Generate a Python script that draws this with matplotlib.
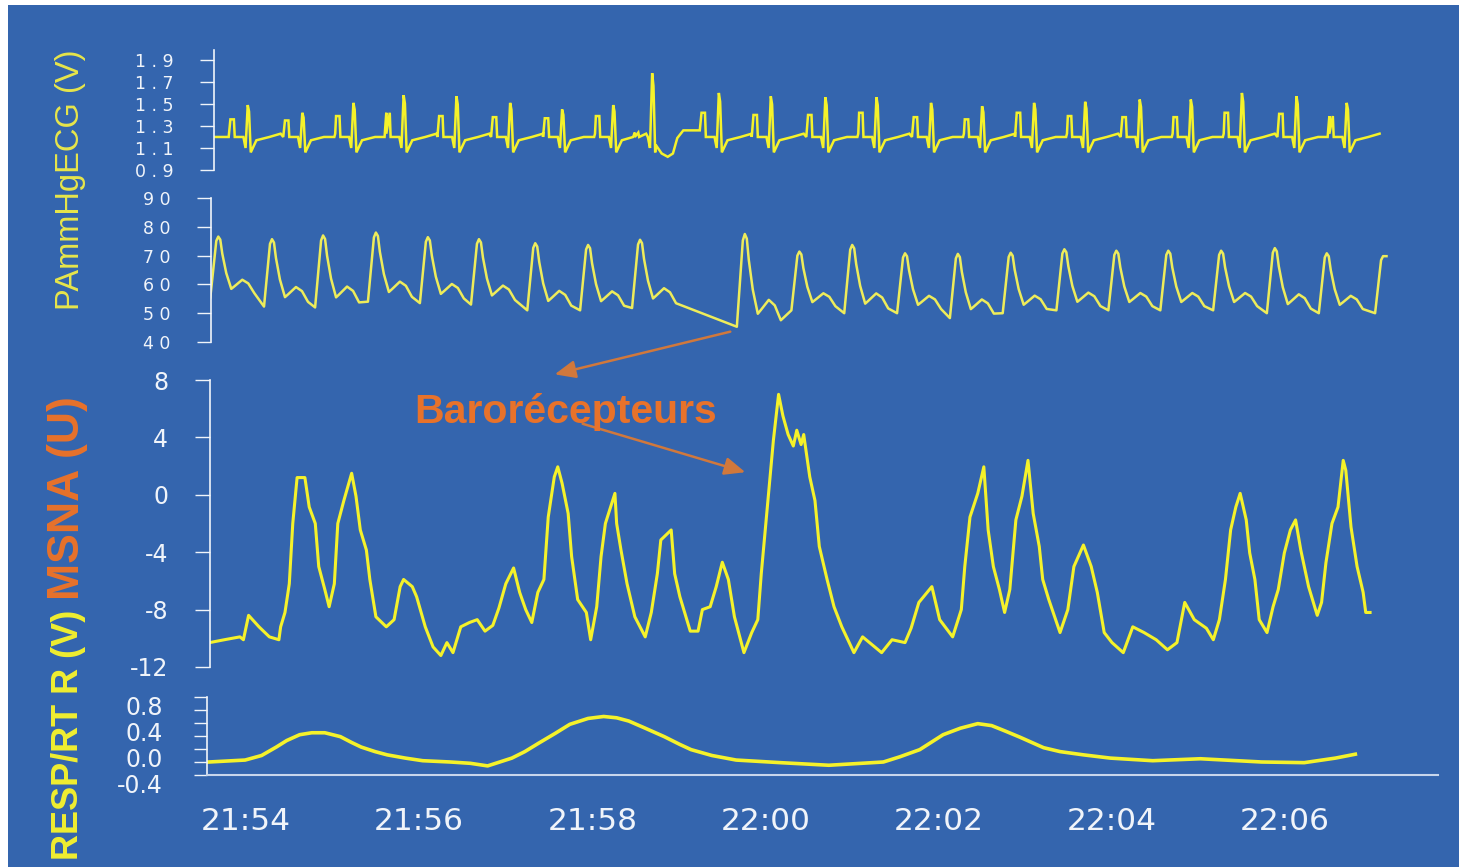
import matplotlib.pyplot as plt
import matplotlib.transforms as mtransforms
from matplotlib.patches import Rectangle, FancyArrowPatch
from matplotlib.ticker import FuncFormatter
import numpy as np

plt.rcParams['axes.unicode_minus'] = False

# time axis: minutes after 21:00
# ---- ECG (V) ----
ecg_r_t = [54.02, 54.65, 55.24, 55.82, 56.43, 57.05, 57.65, 58.24, 58.69, 59.46, 60.06,
           60.69, 61.28, 61.91, 62.50, 63.10, 63.69, 64.32, 64.91, 65.50, 66.13, 66.71]
ecg_r_v = [1.49, 1.42, 1.51, 1.58, 1.57, 1.51, 1.45, 1.49, 1.78, 1.60, 1.57,
           1.56, 1.56, 1.51, 1.48, 1.51, 1.52, 1.54, 1.54, 1.60, 1.57, 1.51]
ecg_p_v = [1.36, 1.35, 1.39, 1.42, 1.39, 1.38, 1.37, 1.39, 1.24, 1.42, 1.40,
           1.40, 1.42, 1.38, 1.36, 1.42, 1.39, 1.38, 1.38, 1.42, 1.41, 1.39]
ecg_base = 1.2
ecg_start_t = 53.63
# wide dip after the long beat
ecg_dip_t = [58.73, 58.80, 58.87, 58.93, 58.98, 59.05, 59.24]
ecg_dip_v = [1.13, 1.05, 1.02, 1.05, 1.19, 1.26, 1.26]
# beat shape: offsets (min) from the R wave
ecg_dt = [-0.22, -0.20, -0.16, -0.15, -0.05, -0.025, 0.0, 0.015, 0.035, 0.07, 0.10, 0.25, 0.38]

# ---- PA (mmHg) ----
pa_peak_t = [53.68, 54.30, 54.89, 55.50, 56.10, 56.69, 57.34, 57.95, 58.55, 59.76, 60.39,
             61.00, 61.61, 62.22, 62.83, 63.45, 64.05, 64.65, 65.26, 65.88, 66.48, 67.13]
pa_peak_v = [76.6, 75.7, 77.0, 78.0, 76.4, 75.7, 74.3, 73.7, 75.5, 77.5, 71.4,
             73.7, 70.8, 70.6, 71.0, 72.2, 71.7, 71.7, 71.7, 72.6, 70.8, 69.8]
pa_trough_v = [55.5, 52.3, 52.0, 54.0, 53.5, 53.0, 51.0, 51.0, 51.8, 45.3, 51.0,
               50.0, 50.0, 48.3, 50.0, 51.0, 51.0, 51.0, 51.0, 50.0, 50.0, 50.0]
pa_end_t = 67.17
pa_dt = [-0.092, -0.058, -0.023, 0.0, 0.023, 0.046, 0.092, 0.150, 0.185, 0.277, 0.346, 0.416]
pa_frac = [0.0, 0.45, 0.93, 1.0, 0.95, 0.72, 0.40, 0.14, 0.18, 0.29, 0.23, 0.07]

# ---- MSNA (U) ----
msna_t = [53.58, 53.75, 53.93, 53.97, 54.03, 54.15, 54.27, 54.38, 54.40, 54.45,
          54.50, 54.54, 54.59, 54.68, 54.73, 54.80, 54.84, 54.91, 54.96, 55.02,
          55.06, 55.13, 55.22, 55.27, 55.32, 55.39, 55.43, 55.50, 55.62, 55.71,
          55.78, 55.82, 55.92, 55.97, 56.07, 56.16, 56.25, 56.32, 56.39, 56.48,
          56.58, 56.67, 56.76, 56.85, 56.92, 57.00, 57.09, 57.16, 57.23, 57.30,
          57.37, 57.44, 57.49, 57.56, 57.60, 57.65, 57.72, 57.76, 57.83, 57.93,
          57.98, 58.05, 58.10, 58.15, 58.21, 58.26, 58.28, 58.33, 58.40, 58.49,
          58.61, 58.68, 58.75, 58.79, 58.91, 58.95, 59.01, 59.13, 59.22, 59.27,
          59.36, 59.43, 59.50, 59.57, 59.64, 59.75, 59.84, 59.91, 59.95, 60.02,
          60.09, 60.15, 60.20, 60.26, 60.32, 60.36, 60.41, 60.44, 60.51, 60.57,
          60.62, 60.71, 60.79, 60.88, 61.02, 61.12, 61.34, 61.46, 61.61, 61.68,
          61.77, 61.92, 62.01, 62.16, 62.26, 62.30, 62.36, 62.45, 62.52, 62.57,
          62.63, 62.70, 62.76, 62.82, 62.89, 62.96, 63.03, 63.09, 63.16, 63.20,
          63.27, 63.40, 63.49, 63.56, 63.67, 63.76, 63.83, 63.91, 64.00, 64.13,
          64.24, 64.37, 64.51, 64.64, 64.75, 64.84, 64.95, 65.09, 65.17, 65.24,
          65.31, 65.37, 65.43, 65.48, 65.55, 65.59, 65.65, 65.70, 65.79, 65.86,
          65.92, 65.99, 66.06, 66.12, 66.18, 66.27, 66.37, 66.42, 66.47, 66.54,
          66.61, 66.67, 66.70, 66.76, 66.83, 66.90, 66.93, 66.98]
msna_v = [-10.3, -10.1, -9.9, -10.1, -8.4, -9.2, -9.9, -10.1, -9.2, -8.2,
          -6.2, -2.0, 1.2, 1.2, -0.85, -2.0, -5.0, -6.6, -7.8, -6.2,
          -2.0, -0.4, 1.5, -0.1, -2.45, -3.85, -5.9, -8.5, -9.2, -8.7,
          -6.4, -5.9, -6.4, -7.1, -9.2, -10.6, -11.2, -10.3, -11.0, -9.2,
          -8.9, -8.7, -9.5, -9.1, -7.9, -6.2, -5.1, -6.8, -8.0, -8.9,
          -6.8, -5.9, -1.55, 1.25, 1.95, 0.8, -1.3, -4.3, -7.3, -8.2,
          -10.1, -7.8, -4.3, -2.0, -0.85, 0.1, -2.0, -3.85, -6.2, -8.5,
          -9.9, -8.2, -5.5, -3.15, -2.45, -5.5, -7.1, -9.5, -9.5, -8.0,
          -7.8, -6.4, -4.7, -5.9, -8.5, -11.0, -9.6, -8.7, -5.5, -0.85,
          3.8, 7.0, 5.5, 4.2, 3.4, 4.5, 3.5, 4.2, 1.25, -0.4,
          -3.6, -5.9, -7.8, -9.2, -11.0, -9.9, -11.0, -10.1, -10.3, -9.3,
          -7.5, -6.4, -8.7, -9.9, -8.0, -5.0, -1.55, 0.1, 1.95, -2.45,
          -5.0, -6.6, -8.2, -6.6, -1.75, -0.1, 2.4, -1.3, -3.6, -5.9,
          -7.3, -9.6, -8.0, -5.0, -3.5, -5.0, -6.8, -9.6, -10.3, -11.0,
          -9.2, -9.6, -10.1, -10.8, -10.3, -7.5, -8.7, -9.3, -10.1, -8.7,
          -5.9, -2.45, -0.85, 0.1, -1.75, -4.05, -5.9, -8.7, -9.6, -7.8,
          -6.6, -4.05, -2.45, -1.75, -3.85, -6.4, -8.4, -7.5, -4.75, -2.0,
          -0.85, 2.4, 1.7, -2.25, -5.0, -6.8, -8.2, -8.2]

# ---- RESP (V) ----
resp_t = [53.57, 53.99, 54.18, 54.35, 54.47, 54.62, 54.76, 54.91, 55.09, 55.22,
          55.33, 55.49, 55.63, 55.84, 56.04, 56.36, 56.59, 56.79, 56.93, 57.07,
          57.22, 57.38, 57.57, 57.74, 57.95, 58.13, 58.28, 58.42, 58.61, 58.83,
          59.01, 59.14, 59.38, 59.66, 60.17, 60.73, 61.36, 61.55, 61.78, 62.05,
          62.25, 62.45, 62.61, 62.76, 62.94, 63.21, 63.40, 63.67, 63.98, 64.47,
          65.02, 65.73, 66.22, 66.58, 66.81]
resp_v = [0.0, 0.03, 0.10, 0.23, 0.33, 0.42, 0.45, 0.45, 0.39, 0.30,
          0.23, 0.16, 0.11, 0.06, 0.02, 0.0, -0.02, -0.06, 0.0, 0.06,
          0.16, 0.29, 0.44, 0.58, 0.67, 0.70, 0.68, 0.63, 0.52, 0.39,
          0.27, 0.19, 0.10, 0.03, -0.01, -0.05, 0.0, 0.08, 0.19, 0.42,
          0.52, 0.59, 0.56, 0.48, 0.38, 0.22, 0.16, 0.11, 0.06, 0.02,
          0.05, 0.0, -0.01, 0.06, 0.12]

ecg_ticks = [0.9, 1.1, 1.3, 1.5, 1.7, 1.9]
pa_ticks = [40, 50, 60, 70, 80, 90]
msna_ticks = [-12, -8, -4, 0, 4, 8]
resp_ticks = [-0.2, 0.0, 0.2, 0.4, 0.6, 0.8, 1.0]
resp_labels = [0.8, 0.4, 0.0, -0.4]
time_ticks = [54, 56, 58, 60, 62, 64, 66]

BLUE = '#3465ae'
YEL = '#f5f22a'
ORANGE = '#e8722a'
WHITE = '#f0f4fa'
W, H = 1459, 867

# build ECG series
ecg_t, ecg_v = [ecg_start_t], [ecg_base]
b = ecg_base
for tr, r, p in zip(ecg_r_t, ecg_r_v, ecg_p_v):
    vals = [b, p, p, b, b, b - 0.10, r, b + 0.8 * (r - b), b - 0.14, b - 0.08, b - 0.03, b, b + 0.03]
    for d, v in zip(ecg_dt, vals):
        ecg_t.append(tr + d)
        ecg_v.append(v)
ecg_t = np.array(ecg_t)
ecg_v = np.array(ecg_v)
keep = ~((ecg_t > ecg_dip_t[0] - 0.005) & (ecg_t < ecg_dip_t[-1] + 0.005))
ecg_t = np.concatenate([ecg_t[keep], ecg_dip_t])
ecg_v = np.concatenate([ecg_v[keep], ecg_dip_v])
order = np.argsort(ecg_t)
ecg_t, ecg_v = ecg_t[order], ecg_v[order]

# build PA series
pa_t, pa_v = [], []
for i, (tp, pk, tr) in enumerate(zip(pa_peak_t, pa_peak_v, pa_trough_v)):
    last = i == len(pa_peak_t) - 1
    for d, f in zip(pa_dt, pa_frac):
        if last and d > 0:
            break
        pa_t.append(tp + d)
        pa_v.append(tr + f * (pk - tr))
pa_t.append(pa_end_t)
pa_v.append(pa_peak_v[-1])

fig = plt.figure(figsize=(W / 100, H / 100), dpi=100, facecolor='white')
fig.add_artist(Rectangle((8 / W, 0), 1 - 8 / W, 1 - 5 / H, transform=fig.transFigure,
                         facecolor=BLUE, edgecolor='none', zorder=-10))


def panel(left, top, bottom, right=1438):
    ax = fig.add_axes([left / W, 1 - bottom / H, (right - left) / W, (bottom - top) / H])
    ax.set_xlim(54 + (left - 246) / 86.6, 54 + (right - 246) / 86.6)
    ax.patch.set_visible(False)
    for s in ['top', 'right', 'bottom']:
        ax.spines[s].set_visible(False)
    ax.spines['left'].set_color(WHITE)
    ax.spines['left'].set_linewidth(1.2)
    ax.set_xticks([])
    return ax


ax1 = panel(214, 50, 170)
ax1.plot(ecg_t, ecg_v, color=YEL, lw=1.8, solid_joinstyle='miter')
ax1.set_ylim(0.9, 1.99)
ax1.set_yticks(ecg_ticks)
ax1.set_yticklabels([' . '.join(f'{v:.1f}'.split('.')) for v in ecg_ticks])
ax1.tick_params(axis='y', colors=WHITE, length=10, width=1, pad=19, labelsize=12.5)

ax2 = panel(211, 198, 342)
ax2.plot(pa_t, pa_v, color='#eeec5a', lw=1.8)
ax2.set_ylim(40, 90)
ax2.set_yticks(pa_ticks)
ax2.set_yticklabels([' '.join(str(v)) for v in pa_ticks])
ax2.tick_params(axis='y', colors=WHITE, length=10, width=1, pad=19, labelsize=12.5)

ax3 = panel(210, 380, 667)
ax3.plot(msna_t, msna_v, color=YEL, lw=2.2)
ax3.set_ylim(-12, 8)
ax3.set_yticks(msna_ticks)
ax3.tick_params(axis='y', colors=WHITE, length=11, width=1, pad=19, labelsize=17)

ax4 = panel(207, 697, 775)
ax4.plot(resp_t, resp_v, color=YEL, lw=2.6)
ax4.set_ylim(-0.2, 1.0)
ax4.set_yticks(resp_ticks)
ax4.set_yticklabels([])
ax4.tick_params(axis='y', colors=WHITE, length=9.5, width=1)
ax4.spines['bottom'].set_visible(True)
ax4.spines['bottom'].set_color('#c8d6ec')
ax4.spines['bottom'].set_linewidth(1.5)
ax4.set_xticks(time_ticks)
ax4.xaxis.set_major_formatter(FuncFormatter(lambda v, p: f"{21 + int(v) // 60}:{int(v) % 60:02d}"))
ax4.tick_params(axis='x', colors=WHITE, length=0, pad=23, labelsize=22.5)
off = mtransforms.ScaledTranslation(-0.44, 0.02, fig.dpi_scale_trans)
for v in resp_labels:
    ax4.text(0, v, f'{v:.1f}', transform=ax4.get_yaxis_transform() + off, ha='right',
             va='center', color=WHITE, fontsize=17, clip_on=False)

# axis titles
fig.text(70 / W, 1 - 180 / H, 'PAmmHgECG (V)', rotation=90, color='#e8e64a', fontsize=23.5,
         family='Liberation Sans', ha='center', va='center')
fig.text(68 / W, 1 - 600 / H, 'MSNA (U)', rotation=90, color=ORANGE, fontsize=32,
         weight='bold', family='Liberation Sans', ha='center', va='bottom')
fig.text(69 / W, 1 - 610 / H, 'RESP/RT R (V)', rotation=90, color='#f0ee30', fontsize=26,
         weight='bold', family='Liberation Sans', ha='center', va='top')

# annotation
fig.text(566 / W, 1 - 412 / H, 'Barorécepteurs', color=ORANGE, fontsize=29.5, weight='bold',
         family='Liberation Sans', ha='center', va='center')
for (x0, y0), (x1, y1) in [((733, 331), (552, 375)), ((580, 423), (748, 473))]:
    fig.add_artist(FancyArrowPatch((x0 / W, 1 - y0 / H), (x1 / W, 1 - y1 / H),
                                   transform=fig.transFigure,
                                   arrowstyle='-|>,head_length=0.7,head_width=0.3',
                                   mutation_scale=18, lw=1.8, color='#d0783c'))

fig.savefig('out.png', dpi=100, facecolor=fig.get_facecolor())
